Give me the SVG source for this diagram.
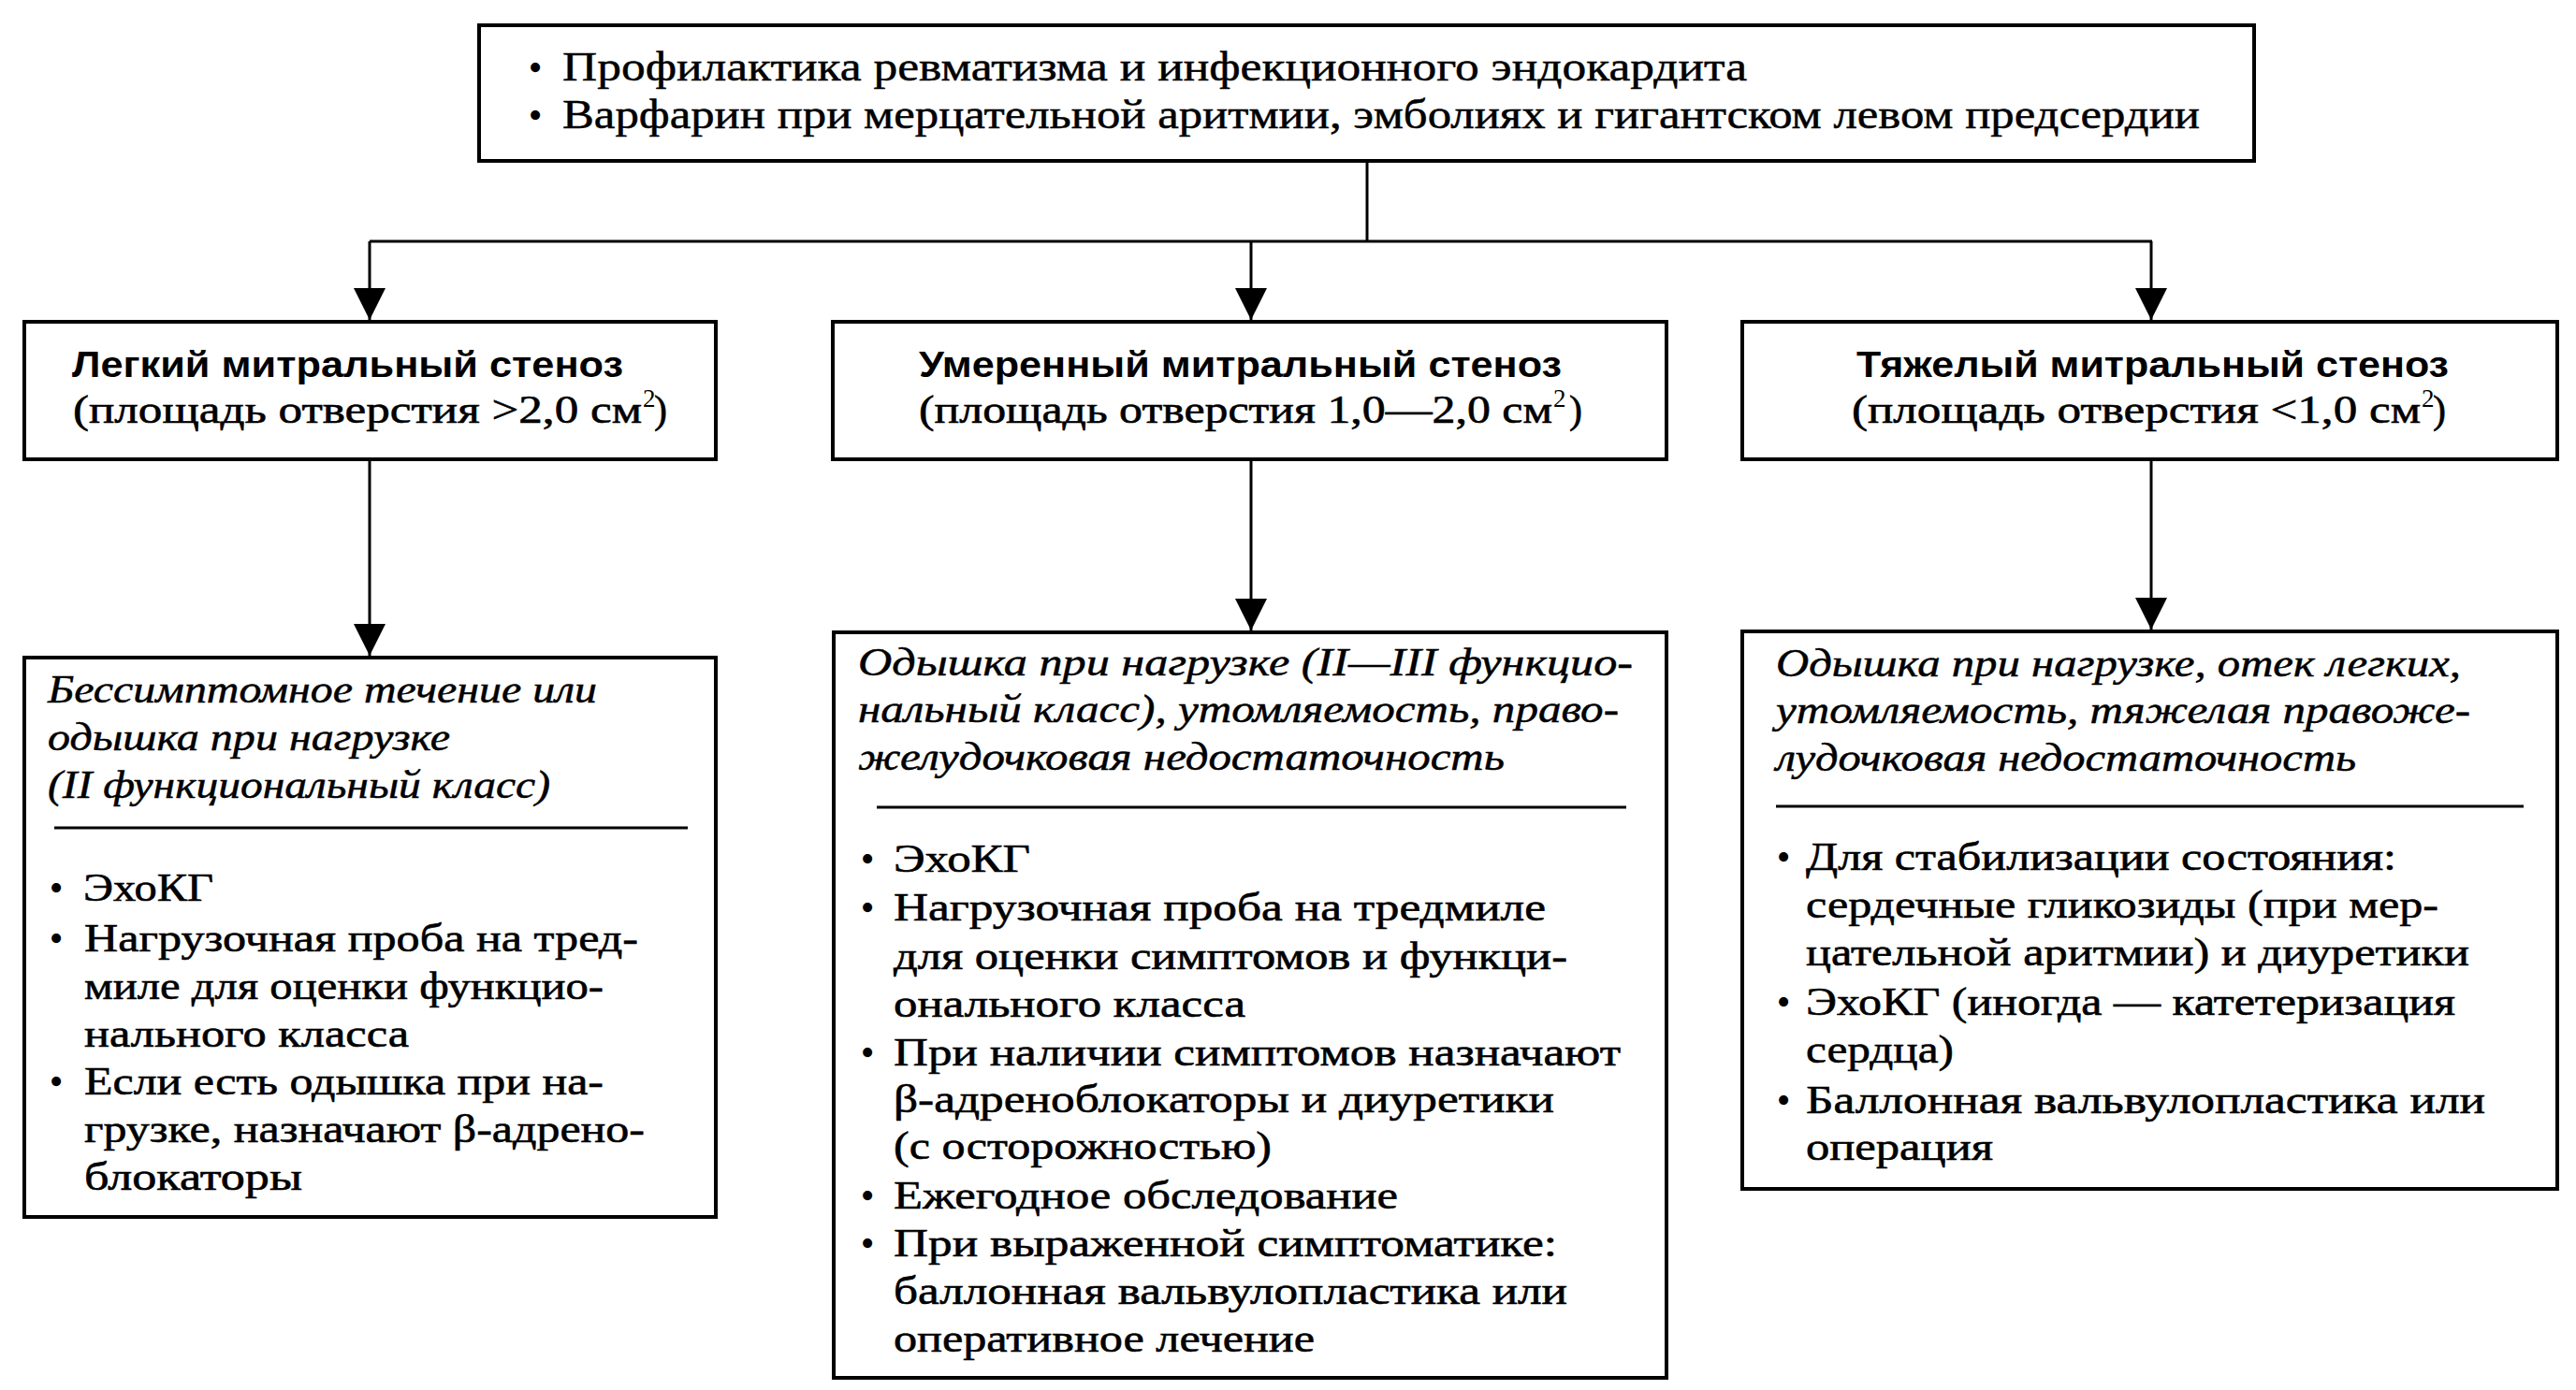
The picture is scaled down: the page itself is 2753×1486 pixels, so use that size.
<svg xmlns="http://www.w3.org/2000/svg" width="2753" height="1486" viewBox="0 0 2753 1486">
<style>
.box{fill:#fff;stroke:#000;stroke-width:4}
.conn{fill:none;stroke:#000;stroke-width:3}
.div{stroke:#000;stroke-width:3}
text{fill:#000}
.s{font-family:"Liberation Serif","Times New Roman",serif;font-size:42px;stroke:#000;stroke-width:0.6}
.t{font-family:"Liberation Serif","Times New Roman",serif;font-size:44px;stroke:#000;stroke-width:0.5}
.i{font-family:"Liberation Serif","Times New Roman",serif;font-size:42px;font-style:italic;stroke:#000;stroke-width:0.5}
.b{font-family:"Liberation Sans",Arial,sans-serif;font-size:38px;font-weight:bold}
.sup{font-family:"Liberation Serif","Times New Roman",serif;font-size:27px}
.bu{font-family:"Liberation Serif","Times New Roman",serif;font-size:42px;text-anchor:middle}
</style>
<defs>
<marker id="arr" markerUnits="userSpaceOnUse" markerWidth="34" markerHeight="34" refX="34" refY="17" orient="auto">
<path d="M0,0 L34,17 L0,34 Z" fill="#000"/>
</marker>
</defs>
<rect width="2753" height="1486" fill="#fff"/>

<g id="connectors">
<path class="conn" d="M1461,174 V258"/>
<path class="conn" d="M395,258 H2300"/>
<path class="conn" d="M395,258 V342" marker-end="url(#arr)"/>
<path class="conn" d="M1337,258 V342" marker-end="url(#arr)"/>
<path class="conn" d="M2299,258 V342" marker-end="url(#arr)"/>
<path class="conn" d="M395,492 V701" marker-end="url(#arr)"/>
<path class="conn" d="M1337,492 V674" marker-end="url(#arr)"/>
<path class="conn" d="M2299,492 V673" marker-end="url(#arr)"/>
</g>

<g id="top">
<rect class="box" x="512" y="27" width="1897" height="145"/>
<text class="bu" x="572" y="86">•</text>
<text class="t" x="601" y="86" textLength="1266" lengthAdjust="spacingAndGlyphs">Профилактика ревматизма и инфекционного эндокардита</text>
<text class="bu" x="572" y="137">•</text>
<text class="t" x="601" y="137" textLength="1750" lengthAdjust="spacingAndGlyphs">Варфарин при мерцательной аритмии, эмболиях и гигантском левом предсердии</text>
</g>

<g id="mild">
<rect class="box" x="26" y="344" width="739" height="147"/>
<text class="b" x="77" y="403" textLength="589" lengthAdjust="spacingAndGlyphs">Легкий митральный стеноз</text>
<text class="s" x="78" y="452" textLength="608" lengthAdjust="spacingAndGlyphs">(площадь отверстия &gt;2,0 см</text>
<text class="sup" x="687" y="435">2</text>
<text class="s" x="699" y="452">)</text>
</g>

<g id="moderate">
<rect class="box" x="890" y="344" width="891" height="147"/>
<text class="b" x="982" y="403" textLength="687" lengthAdjust="spacingAndGlyphs">Умеренный митральный стеноз</text>
<text class="s" x="982" y="452" textLength="677" lengthAdjust="spacingAndGlyphs">(площадь отверстия 1,0—2,0 см</text>
<text class="sup" x="1660" y="435">2</text>
<text class="s" x="1677" y="452">)</text>
</g>

<g id="severe">
<rect class="box" x="1862" y="344" width="871" height="147"/>
<text class="b" x="1984" y="403" textLength="633" lengthAdjust="spacingAndGlyphs">Тяжелый митральный стеноз</text>
<text class="s" x="1979" y="452" textLength="608" lengthAdjust="spacingAndGlyphs">(площадь отверстия &lt;1,0 см</text>
<text class="sup" x="2588" y="435">2</text>
<text class="s" x="2600" y="452">)</text>
</g>

<g id="mild-detail">
<rect class="box" x="26" y="703" width="739" height="598"/>
<text class="i" x="51" y="751" textLength="587" lengthAdjust="spacingAndGlyphs">Бессимптомное течение или</text>
<text class="i" x="51" y="802" textLength="430" lengthAdjust="spacingAndGlyphs">одышка при нагрузке</text>
<text class="i" x="51" y="853" textLength="537" lengthAdjust="spacingAndGlyphs">(II функциональный класс)</text>
<line class="div" x1="58" y1="885" x2="735" y2="885"/>
<text class="bu" x="60" y="963">•</text>
<text class="s" x="89" y="963" textLength="139" lengthAdjust="spacingAndGlyphs">ЭхоКГ</text>
<text class="bu" x="60" y="1017">•</text>
<text class="s" x="90" y="1017" textLength="592" lengthAdjust="spacingAndGlyphs">Нагрузочная проба на тред-</text>
<text class="s" x="90" y="1068" textLength="555" lengthAdjust="spacingAndGlyphs">миле для оценки функцио-</text>
<text class="s" x="90" y="1119" textLength="347" lengthAdjust="spacingAndGlyphs">нального класса</text>
<text class="bu" x="60" y="1170">•</text>
<text class="s" x="90" y="1170" textLength="555" lengthAdjust="spacingAndGlyphs">Если есть одышка при на-</text>
<text class="s" x="90" y="1221" textLength="599" lengthAdjust="spacingAndGlyphs">грузке, назначают β-адрено-</text>
<text class="s" x="90" y="1272" textLength="233" lengthAdjust="spacingAndGlyphs">блокаторы</text>
</g>

<g id="moderate-detail">
<rect class="box" x="891" y="676" width="890" height="797"/>
<text class="i" x="917" y="722" textLength="828" lengthAdjust="spacingAndGlyphs">Одышка при нагрузке (II—III функцио-</text>
<text class="i" x="917" y="772" textLength="813" lengthAdjust="spacingAndGlyphs">нальный класс), утомляемость, право-</text>
<text class="i" x="917" y="823" textLength="691" lengthAdjust="spacingAndGlyphs">желудочковая недостаточность</text>
<line class="div" x1="937" y1="863" x2="1738" y2="863"/>
<text class="bu" x="927" y="932">•</text>
<text class="s" x="955" y="932" textLength="146" lengthAdjust="spacingAndGlyphs">ЭхоКГ</text>
<text class="bu" x="927" y="984">•</text>
<text class="s" x="955" y="984" textLength="697" lengthAdjust="spacingAndGlyphs">Нагрузочная проба на тредмиле</text>
<text class="s" x="955" y="1036" textLength="720" lengthAdjust="spacingAndGlyphs">для оценки симптомов и функци-</text>
<text class="s" x="955" y="1087" textLength="376" lengthAdjust="spacingAndGlyphs">онального класса</text>
<text class="bu" x="927" y="1139">•</text>
<text class="s" x="955" y="1139" textLength="777" lengthAdjust="spacingAndGlyphs">При наличии симптомов назначают</text>
<text class="s" x="955" y="1189" textLength="706" lengthAdjust="spacingAndGlyphs">β-адреноблокаторы и диуретики</text>
<text class="s" x="955" y="1239" textLength="404" lengthAdjust="spacingAndGlyphs">(с осторожностью)</text>
<text class="bu" x="927" y="1292">•</text>
<text class="s" x="955" y="1292" textLength="539" lengthAdjust="spacingAndGlyphs">Ежегодное обследование</text>
<text class="bu" x="927" y="1343">•</text>
<text class="s" x="955" y="1343" textLength="709" lengthAdjust="spacingAndGlyphs">При выраженной симптоматике:</text>
<text class="s" x="955" y="1394" textLength="720" lengthAdjust="spacingAndGlyphs">баллонная вальвулопластика или</text>
<text class="s" x="955" y="1445" textLength="450" lengthAdjust="spacingAndGlyphs">оперативное лечение</text>
</g>

<g id="severe-detail">
<rect class="box" x="1862" y="675" width="871" height="596"/>
<text class="i" x="1898" y="723" textLength="732" lengthAdjust="spacingAndGlyphs">Одышка при нагрузке, отек легких,</text>
<text class="i" x="1898" y="773" textLength="742" lengthAdjust="spacingAndGlyphs">утомляемость, тяжелая правоже-</text>
<text class="i" x="1898" y="824" textLength="620" lengthAdjust="spacingAndGlyphs">лудочковая недостаточность</text>
<line class="div" x1="1898" y1="862" x2="2697" y2="862"/>
<text class="bu" x="1906" y="930">•</text>
<text class="s" x="1930" y="930" textLength="631" lengthAdjust="spacingAndGlyphs">Для стабилизации состояния:</text>
<text class="s" x="1930" y="981" textLength="676" lengthAdjust="spacingAndGlyphs">сердечные гликозиды (при мер-</text>
<text class="s" x="1930" y="1032" textLength="709" lengthAdjust="spacingAndGlyphs">цательной аритмии) и диуретики</text>
<text class="bu" x="1906" y="1085">•</text>
<text class="s" x="1930" y="1085" textLength="694" lengthAdjust="spacingAndGlyphs">ЭхоКГ (иногда — катетеризация</text>
<text class="s" x="1930" y="1136" textLength="158" lengthAdjust="spacingAndGlyphs">сердца)</text>
<text class="bu" x="1906" y="1190">•</text>
<text class="s" x="1930" y="1190" textLength="726" lengthAdjust="spacingAndGlyphs">Баллонная вальвулопластика или</text>
<text class="s" x="1930" y="1240" textLength="200" lengthAdjust="spacingAndGlyphs">операция</text>
</g>
</svg>
